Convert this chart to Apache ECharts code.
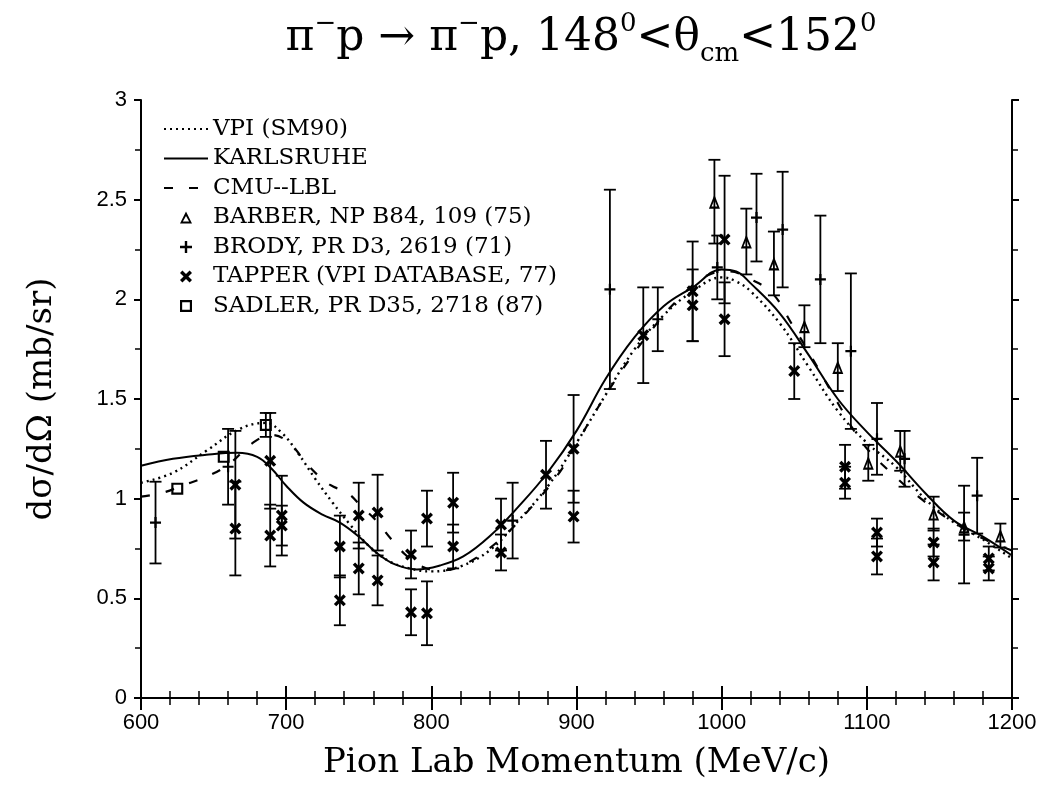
<!DOCTYPE html>
<html>
<head>
<meta charset="utf-8">
<script src="https://cdn.jsdelivr.net/npm/echarts@6/dist/echarts.min.js"></script>
<style>
  html, body { margin: 0; padding: 0; background: #fff; }
  #chart { width: 1045px; height: 802px; }
</style>
</head>
<body>
<div id="chart"></div>
<script>
// model curves: [momentum MeV/c, dσ/dΩ mb/sr]
const vpiCurve = [
    [600, 1.08], [622, 1.13], [645, 1.24], [668, 1.35], [686, 1.38], [697, 1.33],
    [708, 1.23], [720, 1.10], [732, 0.98], [744, 0.87], [756, 0.77], [770, 0.69],
    [785, 0.65], [800, 0.635], [820, 0.66], [840, 0.74], [860, 0.89], [880, 1.06],
    [900, 1.28], [920, 1.52], [940, 1.75], [960, 1.92], [980, 2.04], [1000, 2.11],
    [1010, 2.09], [1020, 2.04], [1040, 1.88], [1060, 1.66], [1080, 1.44], [1100, 1.28],
    [1120, 1.16], [1140, 1.0], [1160, 0.88], [1180, 0.795], [1200, 0.70]
];
const karlsruheCurve = [
    [600, 1.165], [622, 1.20], [645, 1.22], [666, 1.23], [680, 1.21], [690, 1.15],
    [700, 1.065], [712, 0.98], [725, 0.92], [737, 0.88], [750, 0.81], [762, 0.73],
    [775, 0.67], [790, 0.645], [806, 0.665], [822, 0.71], [840, 0.81], [860, 0.96],
    [880, 1.13], [900, 1.34], [920, 1.60], [940, 1.81], [960, 1.965], [980, 2.06],
    [1000, 2.15], [1010, 2.14], [1020, 2.08], [1040, 1.93], [1060, 1.72], [1080, 1.50],
    [1100, 1.335], [1120, 1.19], [1140, 1.03], [1160, 0.89], [1180, 0.81], [1200, 0.715]
];
const cmuCurve = [
    [600, 1.01], [615, 1.03], [630, 1.07], [645, 1.11], [660, 1.17], [677, 1.28],
    [690, 1.32], [702, 1.28], [716, 1.16], [730, 1.07], [742, 1.03], [752, 0.96],
    [762, 0.89], [772, 0.80], [782, 0.72], [792, 0.665], [805, 0.64], [820, 0.66],
    [845, 0.78], [868, 0.95], [890, 1.15], [910, 1.40], [930, 1.63], [950, 1.83],
    [970, 2.0], [990, 2.12], [1005, 2.14], [1020, 2.10], [1035, 2.03], [1048, 1.88],
    [1062, 1.71], [1080, 1.48], [1098, 1.27], [1119, 1.115], [1139, 0.99], [1160, 0.88],
    [1183, 0.79], [1200, 0.74]
];

// measurements: [momentum, value, error]
const barberData = [
    [995, 2.49, 0.21], [1017, 2.29, 0.165], [1036, 2.18, 0.16], [1057, 1.865, 0.105],
    [1080, 1.66, 0.12], [1101, 1.18, 0.09], [1123, 1.24, 0.10], [1146, 0.925, 0.085],
    [1167, 0.86, 0.07], [1192, 0.815, 0.06]
];
const brodyData = [
    [610, 0.88, 0.205], [660, 1.16, 0.19], [856, 0.89, 0.19], [923, 2.05, 0.5],
    [956, 1.90, 0.16], [997, 2.16, 0.16], [1024, 2.41, 0.22], [1042, 2.35, 0.29],
    [1068, 2.10, 0.32], [1089, 1.74, 0.39], [1107, 1.30, 0.18], [1126, 1.20, 0.14],
    [1167, 0.82, 0.245], [1176, 1.015, 0.19]
];
const tapperData = [
    [665, 1.07, 0.27], [665, 0.85, 0.235], [689, 1.19, 0.24], [689, 0.815, 0.155],
    [697, 0.915, 0.2], [697, 0.865, 0.1], [737, 0.76, 0.155], [737, 0.49, 0.125],
    [750, 0.915, 0.165], [750, 0.65, 0.13], [763, 0.93, 0.19], [763, 0.59, 0.125],
    [786, 0.72, 0.12], [786, 0.43, 0.115], [797, 0.90, 0.14], [797, 0.425, 0.16],
    [815, 0.98, 0.15], [815, 0.76, 0.11], [848, 0.87, 0.13], [848, 0.73, 0.09],
    [879, 1.12, 0.17], [898, 1.25, 0.27], [898, 0.91, 0.13], [946, 1.82, 0.24],
    [980, 2.04, 0.25], [980, 1.97, 0.18], [1002, 2.30, 0.32], [1002, 1.90, 0.185],
    [1050, 1.64, 0.14], [1085, 1.16, 0.11], [1085, 1.08, 0.08], [1107, 0.83, 0.07],
    [1107, 0.71, 0.09], [1146, 0.78, 0.07], [1146, 0.68, 0.09], [1184, 0.70, 0.06],
    [1184, 0.65, 0.06]
];
const sadlerData = [
    [625, 1.05, 0], [657, 1.21, 0], [686, 1.37, 0.06]
];

const xTicks = { min: 600, max: 1200, interval: 100 };
const yTicks = { min: 0, max: 3, interval: 0.5 };

const black = '#000';
const serif = 'DejaVu Serif';
const sans = 'Liberation Sans';

// marker outlines, hollow ones use an inner path wound the other way
const plusPath = 'path://M4,0H6V4H10V6H6V10H4V6H0V4H4Z';
const crossPath = 'path://M0,2L2,0L5,3L8,0L10,2L7,5L10,8L8,10L5,7L2,10L0,8L3,5Z';
const trianglePath = 'path://M5,0L10,10L0,10Z M5,3.8L2.4,8.4L7.6,8.4Z';
const squarePath = 'path://M0,0H10V10H0Z M1.8,1.8V8.2H8.2V1.8Z';

function errorBars(rows) {
    return {
        type: 'custom',
        silent: true,
        renderItem: (params, api) => {
            const x = api.value(0);
            const top = api.coord([x, api.value(2)]);
            const bot = api.coord([x, api.value(1)]);
            const w = 6;
            const style = { stroke: black, lineWidth: 1.8 };
            return {
                type: 'group',
                children: [
                    { type: 'line', shape: { x1: top[0], y1: top[1], x2: bot[0], y2: bot[1] }, style },
                    { type: 'line', shape: { x1: top[0] - w, y1: top[1], x2: top[0] + w, y2: top[1] }, style },
                    { type: 'line', shape: { x1: bot[0] - w, y1: bot[1], x2: bot[0] + w, y2: bot[1] }, style }
                ]
            };
        },
        encode: { x: 0, y: [1, 2] },
        data: rows.filter(r => r[2] > 0).map(r => [r[0], r[1] - r[2], r[1] + r[2]]),
        z: 2
    };
}

function curve(name, points, type, width) {
    return {
        name: name,
        type: 'line',
        symbol: 'none',
        smooth: 0.4,
        lineStyle: { color: black, width: width, type: type },
        itemStyle: { color: 'rgba(0,0,0,0)', borderWidth: 0 },
        data: points,
        z: 3
    };
}

function markers(name, rows, symbol, size) {
    return {
        name: name,
        type: 'scatter',
        symbol: symbol,
        symbolSize: size,
        itemStyle: { color: black, opacity: 1 },
        data: rows.map(r => [r[0], r[1]]),
        z: 4
    };
}

const tickLabel = { show: true, color: black, fontFamily: sans, fontSize: 22, margin: 14, formatter: v => String(v) };
const axisLine = { show: true, lineStyle: { color: black, width: 2 } };

const chart = echarts.init(document.getElementById('chart'), null, { renderer: 'canvas' });

chart.setOption({
    animation: false,
    backgroundColor: '#fff',
    title: {
        left: 576,
        top: 6,
        textAlign: 'center',
        text: '{t|π}{s|−}{t|p → π}{s|−}{t|p, 148}{s|0}{t|<θ}{b|cm}{t|<152}{s|0}',
        textStyle: {
            rich: {
                t: { fontFamily: serif, fontWeight: 'normal', fontSize: 44, color: black, lineHeight: 56 },
                s: { fontFamily: serif, fontWeight: 'normal', fontSize: 26, color: black, lineHeight: 56, verticalAlign: 'top' },
                b: { fontFamily: serif, fontWeight: 'normal', fontSize: 26, color: black, lineHeight: 40, verticalAlign: 'bottom' }
            }
        }
    },
    legend: {
        orient: 'vertical',
        left: 158,
        top: 112,
        itemWidth: 44,
        itemHeight: 12,
        itemGap: 5.5,
        selectedMode: false,
        textStyle: { fontFamily: serif, fontSize: 23, color: black, lineHeight: 24 },
        data: [
            'VPI (SM90)',
            'KARLSRUHE',
            'CMU--LBL',
            'BARBER, NP B84, 109 (75)',
            'BRODY, PR D3, 2619 (71)',
            'TAPPER (VPI DATABASE, 77)',
            'SADLER, PR D35, 2718 (87)'
        ]
    },
    grid: { left: 141, right: 33, top: 100, bottom: 104 },
    xAxis: [
        {
            type: 'value',
            position: 'bottom',
            min: xTicks.min, max: xTicks.max, interval: xTicks.interval,
            axisLine: axisLine,
            splitLine: { show: false },
            axisLabel: tickLabel,
            axisTick: { show: true, length: 12, lineStyle: { color: black, width: 2 } },
            minorTick: { show: true, splitNumber: 5, length: 7, lineStyle: { color: black, width: 1.5 } },
            name: 'Pion Lab Momentum (MeV/c)',
            nameLocation: 'middle',
            nameGap: 48,
            nameTextStyle: { fontFamily: serif, fontSize: 34, color: black }
        },
        {
            type: 'value',
            position: 'top',
            min: xTicks.min, max: xTicks.max, interval: xTicks.interval,
            axisLine: axisLine,
            splitLine: { show: false },
            axisLabel: { show: false },
            axisTick: { show: true, length: 12, lineStyle: { color: black, width: 2 } },
            minorTick: { show: true, splitNumber: 5, length: 7, lineStyle: { color: black, width: 1.5 } }
        }
    ],
    yAxis: [
        {
            type: 'value',
            position: 'left',
            min: yTicks.min, max: yTicks.max, interval: yTicks.interval,
            axisLine: axisLine,
            splitLine: { show: false },
            axisLabel: tickLabel,
            axisTick: { show: true, length: 7, lineStyle: { color: black, width: 2 } },
            minorTick: { show: true, splitNumber: 2, length: 6, lineStyle: { color: black, width: 1.5 } },
            name: 'dσ/dΩ (mb/sr)',
            nameLocation: 'middle',
            nameGap: 82,
            nameTextStyle: { fontFamily: serif, fontSize: 34, color: black }
        },
        {
            type: 'value',
            position: 'right',
            min: yTicks.min, max: yTicks.max, interval: yTicks.interval,
            axisLine: axisLine,
            splitLine: { show: false },
            axisLabel: { show: false },
            axisTick: { show: true, length: 7, lineStyle: { color: black, width: 2 } },
            minorTick: { show: true, splitNumber: 2, length: 6, lineStyle: { color: black, width: 1.5 } }
        }
    ],
    series: [
        curve('VPI (SM90)', vpiCurve, [2, 4], 2.4),
        curve('KARLSRUHE', karlsruheCurve, 'solid', 2),
        curve('CMU--LBL', cmuCurve, [9, 16], 2.2),
        errorBars(barberData),
        errorBars(brodyData),
        errorBars(tapperData),
        errorBars(sadlerData),
        markers('BARBER, NP B84, 109 (75)', barberData, trianglePath, [11, 14]),
        markers('BRODY, PR D3, 2619 (71)', brodyData, plusPath, 11),
        markers('TAPPER (VPI DATABASE, 77)', tapperData, crossPath, 12),
        markers('SADLER, PR D35, 2718 (87)', sadlerData, squarePath, 12)
    ]
});
</script>
</body>
</html>
